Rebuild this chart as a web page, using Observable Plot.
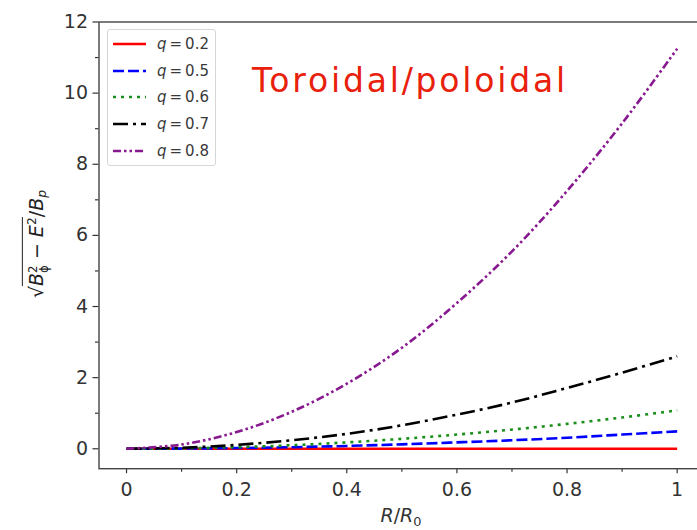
<!DOCTYPE html>
<html>
<head>
<meta charset="utf-8">
<script src="https://cdn.jsdelivr.net/npm/d3@7"></script>
<script src="https://cdn.jsdelivr.net/npm/@observablehq/plot@0.6"></script>
<style>
  html, body { margin: 0; padding: 0; background: #fff; overflow: hidden; }
  #wrap { position: relative; width: 697px; height: 530px; overflow: hidden; }
  #chart { position: absolute; left: 0; top: 0; width: 706px; }
  #chart svg { max-width: none !important; }
  #ylab { position: absolute; left: 38px; top: 244px; transform: translate(-50%, -50%) rotate(-90deg);
          font-family: "DejaVu Sans"; font-size: 19px; color: #222; white-space: nowrap; line-height: 1; }
  #ylab .rad { border-top: 1.3px solid #222; padding-top: 2px; }
  #ylab .ss { display: inline-block; font-size: 0.62em; line-height: 0.95; vertical-align: -0.45em; text-align: left; }
  #ylab .sb { font-size: 0.65em; vertical-align: -0.3em; }
  #ylab .sp { font-size: 0.65em; vertical-align: 0.55em; }
  #xlab { position: absolute; left: 401px; top: 505px; transform: translateX(-50%); font-family: "DejaVu Sans";
          font-size: 19px; color: #333; white-space: nowrap; line-height: 1.1; }
  #xlab sub { font-size: 0.68em; vertical-align: -0.3em; }
  #legend { position: absolute; left: 107px; top: 29px; width: 109px; height: 137px; box-sizing: border-box;
            border: 1px solid #d6d6d6; border-radius: 3px; background: rgba(255,255,255,0.85);
            font-family: "DejaVu Sans"; font-size: 15px; color: #3a3a3a; }
  #legend .row { position: absolute; left: 0; height: 20px; }
  #legend svg { position: absolute; left: 4px; top: 0; }
  #legend span { position: absolute; left: 49px; top: 1px; white-space: nowrap; }
  #title { position: absolute; left: 252px; top: 61px; font-family: "DejaVu Sans"; font-size: 33px; letter-spacing: 2.8px;
           color: #e8200c; white-space: nowrap; line-height: normal; }
</style>
</head>
<body>
<div id="wrap">
  <div id="chart"></div>
  <div id="ylab"><span>√</span><span class="rad"><i>B</i><span class="ss">2<br>ϕ</span> − <i>E</i><span class="sp">2</span></span>/<i>B</i><span class="sb"><i>p</i></span></div>
  <div id="xlab"><i>R</i>/<i>R</i><sub>0</sub></div>
  <div id="legend"></div>
  <div id="title">Toroidal/poloidal</div>
</div>
<script>
// ---- data ----
const xs = [0, 0.1, 0.2, 0.3, 0.4, 0.5, 0.6, 0.7, 0.8, 0.9, 1.0];
const q02 = [0, 0, 0, 0, 0, 0, 0, 0, 0, 0, 0];
const q05 = [0, 0.005, 0.02, 0.045, 0.08, 0.125, 0.18, 0.24, 0.31, 0.4, 0.49];
const q06 = [0, 0.01, 0.045, 0.1, 0.18, 0.28, 0.4, 0.54, 0.7, 0.88, 1.08];
const q07 = [0, 0.03, 0.11, 0.24, 0.42, 0.66, 0.96, 1.3, 1.71, 2.14, 2.6];
const q08 = [0, 0.12, 0.47, 1.04, 1.83, 2.84, 4.1, 5.55, 7.25, 9.15, 11.25];
const qValues = [0.2, 0.5, 0.6, 0.7, 0.8];
const seriesValues = [q02, q05, q06, q07, q08];
const xTicks = [0, 0.2, 0.4, 0.6, 0.8, 1];
const xMinor = [0.1, 0.3, 0.5, 0.7, 0.9];
const yTicks = [0, 2, 4, 6, 8, 10, 12];
const yMinor = [1, 3, 5, 7, 9, 11];

// ---- styles ----
const colors = ["#ff0000", "#0000ff", "#1a8f1a", "#000000", "#87188f"];
const dashes = [null, "11,4", "3,5", "15,5,3,5", "8,3,2.5,3,2.5,3"];

const series = qValues.map((q, i) => ({
  q, color: colors[i], dash: dashes[i],
  data: xs.map((x, j) => ({x, y: seriesValues[i][j]}))
}));

const fmt = d => (d === 0 || d === 1) ? String(d) : d.toFixed(1);

const chart = Plot.plot({
  width: 706, height: 530,
  marginLeft: 98.5, marginRight: 1.8, marginTop: 21.5, marginBottom: 61.8,
  style: {fontFamily: "DejaVu Sans", color: "#333", background: "transparent", maxWidth: "none"},
  x: {domain: [-0.05, 1.05]},
  y: {domain: [-0.56, 12]},
  marks: [
    Plot.axisX({ticks: xMinor, tickSize: 3.5, text: null, label: null, strokeWidth: 1.2}),
    Plot.axisX({ticks: xTicks, tickSize: 5, tickPadding: 9, tickFormat: fmt, fontSize: 19, label: null, strokeWidth: 1.2}),
    Plot.axisY({ticks: yMinor, tickSize: 3.5, text: null, label: null, strokeWidth: 1.2}),
    Plot.axisY({ticks: yTicks, tickSize: 6, tickPadding: 5, fontSize: 19, label: null, strokeWidth: 1.2}),
    ...series.map(s => Plot.line(s.data, {
      x: "x", y: "y", stroke: s.color, strokeWidth: 2.6, curve: "catmull-rom",
      strokeDasharray: s.dash || undefined, strokeLinecap: "butt"
    })),
    Plot.frame({stroke: "#444", strokeWidth: 1.4})
  ]
});
document.getElementById("chart").appendChild(chart);

// ---- legend built from the series ----
const legend = document.getElementById("legend");
series.forEach((s, i) => {
  const row = document.createElement("div");
  row.className = "row";
  row.style.top = (4 + i * 26.7) + "px";
  row.style.width = "100%";
  row.innerHTML = `<svg width="34" height="20"><line x1="1" y1="10" x2="34" y2="10" stroke="${s.color}" stroke-width="2.4" ${s.dash ? `stroke-dasharray="${s.dash}"` : ""}/></svg><span><i>q</i>\u2009=\u20090${String(s.q).slice(1)}</span>`;
  legend.appendChild(row);
});
</script>
</body>
</html>
